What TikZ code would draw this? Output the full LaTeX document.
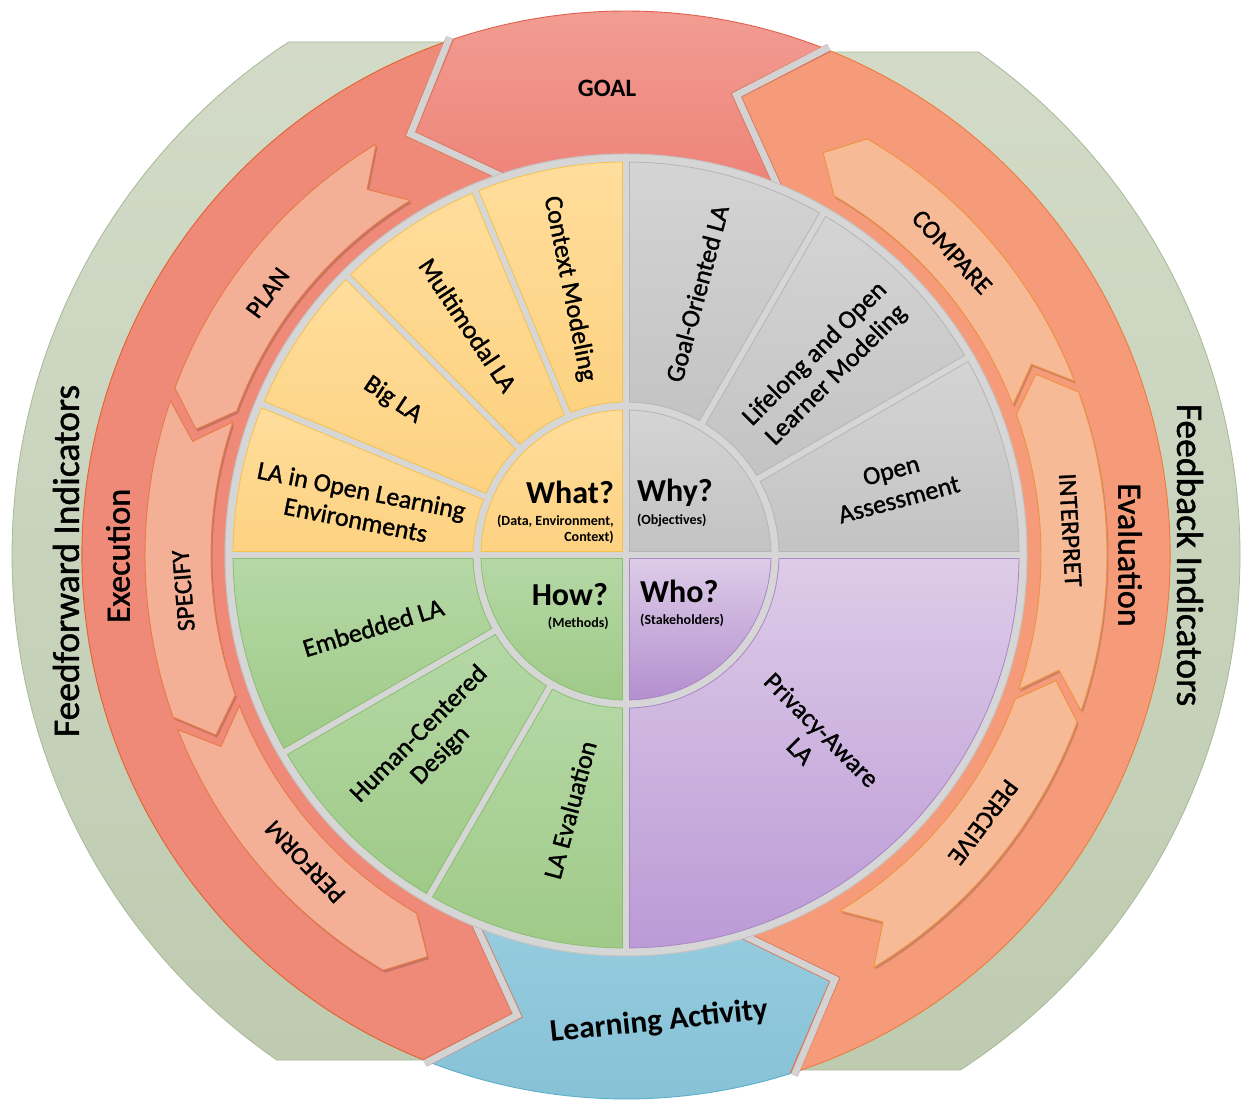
\documentclass[tikz,border=0pt]{standalone}
\usepackage{fontspec}
\setmainfont{Carlito}
\newfontfamily\regfont{Carlito}[RawFeature={embolden=1.2}]
\usetikzlibrary{calc}

\definecolor{greenTop}{HTML}{D3DBC8}
\definecolor{greenBot}{HTML}{BECBB0}
\definecolor{greenEdge}{HTML}{A9B898}
\definecolor{goalTop}{HTML}{F29E94}
\definecolor{goalBot}{HTML}{EE8379}
\definecolor{goalEdge}{HTML}{E0604F}
\definecolor{execFill}{HTML}{EE8A77}
\definecolor{execEdge}{HTML}{E2622F}
\definecolor{evalFill}{HTML}{F69B79}
\definecolor{evalEdge}{HTML}{EC7B3C}
\definecolor{actTop}{HTML}{95CCDE}
\definecolor{actBot}{HTML}{86C1D6}
\definecolor{actEdge}{HTML}{5BAFCB}
\definecolor{execArrow}{HTML}{F4AF97}
\definecolor{execArrowEdge}{HTML}{E77A45}
\definecolor{evalArrow}{HTML}{F7BA97}
\definecolor{evalArrowEdge}{HTML}{F0913F}
\definecolor{gapEdge}{HTML}{D9785E}
\definecolor{gapFill}{HTML}{D3D3D3}
\definecolor{discFill}{HTML}{D6D6D6}
\definecolor{discEdge}{HTML}{C4C4C4}
\definecolor{yTop}{HTML}{FFDD9C}
\definecolor{yBot}{HTML}{FDD281}
\definecolor{yEdge}{HTML}{F4C24A}
\definecolor{gTop}{HTML}{D4D4D4}
\definecolor{gBot}{HTML}{C3C3C3}
\definecolor{gEdge}{HTML}{B5B5B5}
\definecolor{grTop}{HTML}{B5D8A6}
\definecolor{grBot}{HTML}{9FCA87}
\definecolor{grEdge}{HTML}{8BBE73}
\definecolor{pTop}{HTML}{DDCCE8}
\definecolor{pBot}{HTML}{BC9AD6}
\definecolor{pqBot}{HTML}{B48FCF}
\definecolor{pEdge}{HTML}{A887C6}

\tikzset{
  greenband/.style={top color=greenTop, bottom color=greenBot, draw=greenEdge, line width=0.8},
  goalband/.style={top color=goalTop, bottom color=goalBot, draw=goalEdge, line width=0.9},
  execband/.style={fill=execFill, draw=execEdge, line width=0.9},
  evalband/.style={fill=evalFill, draw=evalEdge, line width=0.9},
  actband/.style={top color=actTop, bottom color=actBot, draw=actEdge, line width=0.9},
  execarrow/.style={fill=execArrow, draw=execArrowEdge, line width=0.9},
  evalarrow/.style={fill=evalArrow, draw=evalArrowEdge, line width=0.9},
  arrowshadow/.style={fill=black, fill opacity=0.16, draw=none},
  gapouter/.style={draw=gapEdge, line width=8.6},
  gapinner/.style={draw=gapFill, line width=6.8},
  disc/.style={fill=discFill, draw=discEdge, line width=1},
  yseg/.style={top color=yTop, bottom color=yBot, draw=yEdge, line width=0.8},
  gseg/.style={top color=gTop, bottom color=gBot, draw=gEdge, line width=0.8},
  grseg/.style={top color=grTop, bottom color=grBot, draw=grEdge, line width=0.8},
  pseg/.style={top color=pTop, bottom color=pBot, draw=pEdge, line width=0.8},
  pquad/.style={top color=pTop, bottom color=pqBot, draw=pEdge, line width=0.8},
  lab/.style={font=\regfont\fontsize{26}{30}\selectfont, align=center, inner sep=0pt, text=black},
  arrlab/.style={font=\regfont\fontsize{25.5}{29}\selectfont, inner sep=0pt, text=black},
  biglab/.style={font=\regfont\fontsize{34}{39}\selectfont, inner sep=0pt, text=black},
  indlab/.style={font=\regfont\fontsize{37.5}{42}\selectfont, inner sep=0pt, text=black},
  qlab/.style={font=\bfseries\fontsize{32}{36}\selectfont, inner sep=0pt, text=black},
  qsub/.style={font=\bfseries\fontsize{14}{16}\selectfont, inner sep=0pt, text=black},
}

% main band: style, tail angle, head angle
\newcommand{\bandshape}[3]{%
  \pgfmathsetmacro\bdA{#2+9.3}\pgfmathsetmacro\bdB{#2+1}%
  \pgfmathsetmacro\bdC{#3+1}\pgfmathsetmacro\bdD{#3+9.3}%
  \draw[#1] (#2:398) -- (\bdA:473) -- (\bdB:544)
    arc[start angle=\bdB, end angle=\bdC, radius=544]
    -- (\bdD:473) -- (#3:398)
    arc[start angle=#3, end angle=#2, radius=398] -- cycle;}
% gap between main bands
\newcommand{\gapline}[1]{%
  \pgfmathsetmacro\gpA{#1+9.3}\pgfmathsetmacro\gpB{#1+1}%
  \draw[gapouter] (#1:396) -- (\gpA:473) -- (\gpB:546);
  \draw[gapinner] (#1:396) -- (\gpA:473) -- (\gpB:547);}
% small arrow: style, tail, head
\newcommand{\smallarrow}[3]{%
  \pgfmathsetmacro\saA{#2+4}\pgfmathsetmacro\saB{#3+4}%
  \draw[#1] (#2:415) -- (\saA:448) -- (#2:481)
    arc[start angle=#2, end angle=#3, radius=481]
    -- (\saB:448) -- (#3:415)
    arc[start angle=#3, end angle=#2, radius=415] -- cycle;}
% annular segment: style, from, to
\newcommand{\annseg}[3]{%
  \pgfmathsetmacro\sgA{#2+1.31}\pgfmathsetmacro\sgB{#2+0.51}%
  \pgfmathsetmacro\sgC{#3-0.51}\pgfmathsetmacro\sgD{#3-1.31}%
  \draw[#1] (\sgA:153) -- (\sgB:393)
    arc[start angle=\sgB, end angle=\sgC, radius=393]
    -- (\sgD:153)
    arc[start angle=\sgD, end angle=\sgA, radius=153] -- cycle;}
% inner quadrant: style, start angle
\newcommand{\innerquad}[2]{%
  \pgfmathsetmacro\qdA{#2+45}\pgfmathsetmacro\qdB{#2+1.38}\pgfmathsetmacro\qdC{#2+88.62}%
  \draw[#1] (\qdA:4.95) -- (\qdB:145)
    arc[start angle=\qdB, end angle=\qdC, radius=145] -- cycle;}

\begin{document}
\begin{tikzpicture}[x=1pt,y=1pt]
\useasboundingbox (0,0) rectangle (1252,1110);
\fill[white] (0,0) rectangle (1252,1110);
\begin{scope}[shift={(626,555)}]
  % outer green bands
  \draw[greenband] (-100,513) -- (123.33:614)
     arc[start angle=123.33, end angle=235.34, radius=614] -- (-100,-505) -- cycle;
  \draw[greenband] (100,503) -- (55:614)
     arc[start angle=55, end angle=-57, radius=614] -- (100,-515) -- cycle;

  % main cycle bands
  \bandshape{goalband}{67.2}{107.8}
  \bandshape{execband}{107.8}{247.4}
  \bandshape{actband}{247.4}{286.9}
  \bandshape{evalband}{286.9}{427.2}
  \gapline{67.2}
  \gapline{107.8}
  \gapline{247.4}
  \gapline{286.9}

  % small arrows with shadows
  \begin{scope}[shift={(1.5,-2.5)}]
    \smallarrow{arrowshadow}{121.3}{159.7}
    \smallarrow{arrowshadow}{161.3}{199.7}
    \smallarrow{arrowshadow}{201.3}{239.7}
    \smallarrow{arrowshadow}{301}{339.7}
    \smallarrow{arrowshadow}{341.1}{379.8}
    \smallarrow{arrowshadow}{381.2}{419.9}
  \end{scope}
  \smallarrow{execarrow}{121.3}{159.7}
  \smallarrow{execarrow}{161.3}{199.7}
  \smallarrow{execarrow}{201.3}{239.7}
  \smallarrow{evalarrow}{301}{339.7}
  \smallarrow{evalarrow}{341.1}{379.8}
  \smallarrow{evalarrow}{381.2}{419.9}

  % disc
  \draw[disc] (0,0) circle[radius=401];

  % segments
  \annseg{yseg}{90}{112.5}
  \annseg{yseg}{112.5}{135}
  \annseg{yseg}{135}{157.5}
  \annseg{yseg}{157.5}{180}
  \annseg{gseg}{0}{30}
  \annseg{gseg}{30}{60}
  \annseg{gseg}{60}{90}
  \annseg{grseg}{180}{210}
  \annseg{grseg}{210}{240}
  \annseg{grseg}{240}{270}
  \annseg{pseg}{270}{360}
  \innerquad{yseg}{90}
  \innerquad{gseg}{0}
  \innerquad{grseg}{180}
  \innerquad{pquad}{270}

  % band labels
  \node[font=\bfseries\fontsize{25}{29}\selectfont, inner sep=0pt] (goal) at (-19,467) {GOAL};
  \node[font=\bfseries\fontsize{31.5}{36}\selectfont, inner sep=0pt, rotate=6] (activity) at (33,-467) {Learning Activity};
  \node[biglab, rotate=90] (execution) at (-508,-1) {Execution};
  \node[biglab, rotate=-90] (evaluation) at (504,0) {Evaluation};
  \node[indlab, rotate=90] (feedforward) at (-560,-6) {Feedforward Indicators};
  \node[indlab, rotate=-90] (feedback) at (564,0) {Feedback Indicators};

  % small arrow labels
  \node[arrlab, rotate=53.8] (plan) at (143.8:444) {PLAN};
  \node[arrlab, rotate=94.6] (specify) at (184.6:444) {SPECIFY};
  \node[arrlab, rotate=133.7] (perform) at (223.7:444) {PERFORM};
  \node[arrlab, rotate=-47.1] (compare) at (42.9:445) {COMPARE};
  \node[arrlab, rotate=-86.8] (interpret) at (3.2:445) {INTERPRET};
  \node[arrlab, rotate=233.2] (perceive) at (323.2:446) {PERCEIVE};

  % segment labels
  \node[lab, rotate=-78.75] (ctx) at (102:272) {Context Modeling};
  \node[lab, rotate=-56.25] (mm) at (124.5:279) {Multimodal LA};
  \node[lab, rotate=-33.75] (big) at (146.4:280) {Big LA};
  \node[lab, rotate=-11.25] (ole) at (169.4:272) {LA in Open Learning\\Environments};
  \node[lab, rotate=75] (goalor) at (74.8:271) {Goal-Oriented LA};
  \node[lab, rotate=45] (lifelong) at (43.6:276) {Lifelong and Open\\Learner Modeling};
  \node[lab, rotate=15] (openass) at (14.6:278) {Open\\Assessment};
  \node[lab, rotate=17] (embedded) at (196:263) {Embedded LA};
  \node[lab, rotate=45] (hcd) at (224.1:273) {Human-Centered\\Design};
  \node[lab, rotate=75] (laeval) at (257.6:261) {LA Evaluation};
  \node[lab, rotate=-45] (privacy) at (315:262) {Privacy-Aware\\LA};

  % quadrant labels
  \node[qlab, anchor=east] (what) at (-12,63) {What?};
  \node[qsub, anchor=east] (whatsub1) at (-12,34) {(Data, Environment,};
  \node[qsub, anchor=east] (whatsub2) at (-12,17.5) {Context)};
  \node[qlab, anchor=west] (why) at (11,62) {Why?};
  \node[qsub, anchor=west] (whysub) at (11,35) {(Objectives)};
  \node[qlab, anchor=east] (how) at (-18,-40) {How?};
  \node[qsub, anchor=east] (howsub) at (-17,-68) {(Methods)};
  \node[qlab, anchor=west] (who) at (14,-36) {Who?};
  \node[qsub, anchor=west] (whosub) at (14,-65) {(Stakeholders)};
\end{scope}
\end{tikzpicture}
\end{document}
